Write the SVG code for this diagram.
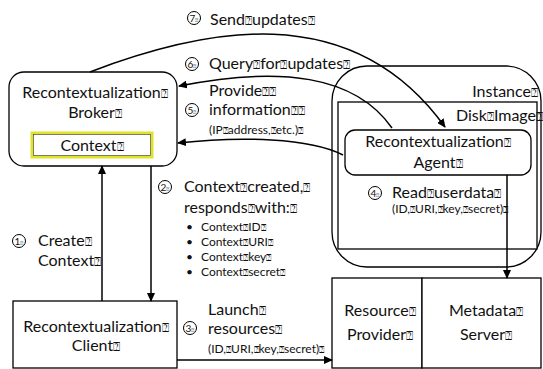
<svg xmlns="http://www.w3.org/2000/svg" width="543" height="369" viewBox="0 0 543 369">
<style>
.box{fill:#fff;stroke:#000;stroke-width:1.3}
.t{font-family:Lato,"Liberation Sans",sans-serif;font-size:16px;fill:#111}
.s{font-family:Lato,"Liberation Sans",sans-serif;font-size:12px;fill:#111}
.m{text-anchor:middle}
.e{text-anchor:end}
.n{font-family:Lato,"Liberation Sans",sans-serif;font-size:10px;fill:#111;text-anchor:middle}
.b{font-size:0.78em}
.nb{font-size:0.55em}
.c{fill:#fff;stroke:#000;stroke-width:1}
.ln{fill:none;stroke:#000;stroke-width:1.5}
</style>
<defs>
<marker id="ah" markerWidth="9" markerHeight="8" refX="8" refY="4" orient="auto" markerUnits="userSpaceOnUse">
<path d="M0,0 L9,4 L0,8 Z" fill="#000"/>
</marker>
</defs>
<rect width="543" height="369" fill="#fff"/>

<g id="instance">
<rect class="box" x="332" y="66" width="209" height="201" rx="35"/>
<text class="t e" x="538" y="97">Instance<tspan class="b">⍰</tspan></text>
</g>
<g id="disk-image">
<rect class="box" x="338" y="102" width="199" height="147"/>
<text class="t e" x="543" y="121">Disk<tspan class="b">⍰</tspan>Image<tspan class="b">⍰</tspan></text>
</g>
<g id="agent">
<rect class="box" x="345" y="130" width="186" height="45" rx="10"/>
<text class="t m" x="438" y="147">Recontextualization<tspan class="b">⍰</tspan></text>
<text class="t m" x="438" y="168">Agent<tspan class="b">⍰</tspan></text>
</g>
<g id="broker">
<rect class="box" x="9" y="72" width="168" height="94" rx="15"/>
<text class="t m" x="95" y="98">Recontextualization<tspan class="b">⍰</tspan></text>
<text class="t m" x="95" y="118">Broker<tspan class="b">⍰</tspan></text>
</g>
<g id="context">
<rect x="32" y="133" width="120" height="24" fill="#fff" stroke="#e2e22c" stroke-width="3"/>
<rect x="33.5" y="134.5" width="117" height="21" fill="none" stroke="#333" stroke-width="0.6"/>
<text class="t m" x="92" y="151">Context<tspan class="b">⍰</tspan></text>
</g>
<g id="client">
<rect class="box" x="13" y="301" width="164" height="67"/>
<text class="t m" x="96" y="332">Recontextualization<tspan class="b">⍰</tspan></text>
<text class="t m" x="96" y="351">Client<tspan class="b">⍰</tspan></text>
</g>
<g id="resource-provider">
<rect class="box" x="332" y="278" width="90" height="90"/>
<text class="t m" x="380" y="316">Resource<tspan class="b">⍰</tspan></text>
<text class="t m" x="380" y="340">Provider<tspan class="b">⍰</tspan></text>
</g>
<g id="metadata-server">
<rect class="box" x="422" y="278" width="119" height="90"/>
<text class="t m" x="486" y="316">Metadata<tspan class="b">⍰</tspan></text>
<text class="t m" x="486" y="340">Server<tspan class="b">⍰</tspan></text>
</g>

<g id="connectors">
<path class="ln" d="M90,72 C200,30 350,-5 445,127" marker-end="url(#ah)"/>
<path class="ln" d="M392,128 C355,75 280,66 179,86" marker-end="url(#ah)"/>
<path class="ln" d="M343,155 C310,138 240,136 178,143" marker-end="url(#ah)"/>
<path class="ln" d="M102,301 L102,166" marker-end="url(#ah)"/>
<path class="ln" d="M151,166 L151,301" marker-end="url(#ah)"/>
<path class="ln" d="M177,360 L332,360" marker-end="url(#ah)"/>
<path class="ln" d="M507,175 L507,278" marker-end="url(#ah)"/>
</g>

<g id="label-7">
<circle class="c" cx="194" cy="18" r="6.5"/><text class="n" x="194" y="21.5">7<tspan class="nb">⍰</tspan></text>
<text class="t" x="210" y="25">Send<tspan class="b">⍰</tspan>updates<tspan class="b">⍰</tspan></text>
</g>
<g id="label-6">
<circle class="c" cx="192" cy="64" r="6.5"/><text class="n" x="192" y="67.5">6<tspan class="nb">⍰</tspan></text>
<text class="t" x="209" y="69">Query<tspan class="b">⍰</tspan>for<tspan class="b">⍰</tspan>updates<tspan class="b">⍰</tspan></text>
</g>
<g id="label-5">
<circle class="c" cx="192" cy="110" r="6.5"/><text class="n" x="192" y="113.5">5<tspan class="nb">⍰</tspan></text>
<text class="t" x="209" y="96">Provide<tspan class="b">⍰⍰</tspan></text>
<text class="t" x="209" y="115">information<tspan class="b">⍰⍰</tspan></text>
<text class="s" x="209" y="134">(IP<tspan class="b">⍰</tspan>address,<tspan class="b">⍰</tspan>etc.)<tspan class="b">⍰</tspan></text>
</g>
<g id="label-2">
<circle class="c" cx="165" cy="187" r="6.5"/><text class="n" x="165" y="190.5">2<tspan class="nb">⍰</tspan></text>
<text class="t" x="184" y="192">Context<tspan class="b">⍰</tspan>created,<tspan class="b">⍰</tspan></text>
<text class="t" x="184" y="213">responds<tspan class="b">⍰</tspan>with:<tspan class="b">⍰</tspan></text>
<text class="s" x="186" y="231">•</text><text class="s" x="201" y="231">Context<tspan class="b">⍰</tspan>ID<tspan class="b">⍰</tspan></text>
<text class="s" x="186" y="246">•</text><text class="s" x="201" y="246">Context<tspan class="b">⍰</tspan>URI<tspan class="b">⍰</tspan></text>
<text class="s" x="186" y="261">•</text><text class="s" x="201" y="261">Context<tspan class="b">⍰</tspan>key<tspan class="b">⍰</tspan></text>
<text class="s" x="186" y="276">•</text><text class="s" x="201" y="276">Context<tspan class="b">⍰</tspan>secret<tspan class="b">⍰</tspan></text>
</g>
<g id="label-1">
<circle class="c" cx="19" cy="241" r="6.5"/><text class="n" x="19" y="244.5">1<tspan class="nb">⍰</tspan></text>
<text class="t" x="38" y="246">Create<tspan class="b">⍰</tspan></text>
<text class="t" x="38" y="266">Context<tspan class="b">⍰</tspan></text>
</g>
<g id="label-3">
<circle class="c" cx="190" cy="328" r="6.5"/><text class="n" x="190" y="331.5">3<tspan class="nb">⍰</tspan></text>
<text class="t" x="208" y="315">Launch<tspan class="b">⍰</tspan></text>
<text class="t" x="208" y="334">resources<tspan class="b">⍰</tspan></text>
<text class="s" x="208" y="353">(ID,<tspan class="b">⍰</tspan>URI,<tspan class="b">⍰</tspan>key,<tspan class="b">⍰</tspan>secret)<tspan class="b">⍰</tspan></text>
</g>
<g id="label-4">
<circle class="c" cx="375" cy="193" r="6.5"/><text class="n" x="375" y="196.5">4<tspan class="nb">⍰</tspan></text>
<text class="t" x="392" y="198">Read<tspan class="b">⍰</tspan>userdata<tspan class="b">⍰</tspan></text>
<text class="s" x="392" y="213">(ID,<tspan class="b">⍰</tspan>URI,<tspan class="b">⍰</tspan>key,<tspan class="b">⍰</tspan>secret)<tspan class="b">⍰</tspan></text>
</g>
</svg>
